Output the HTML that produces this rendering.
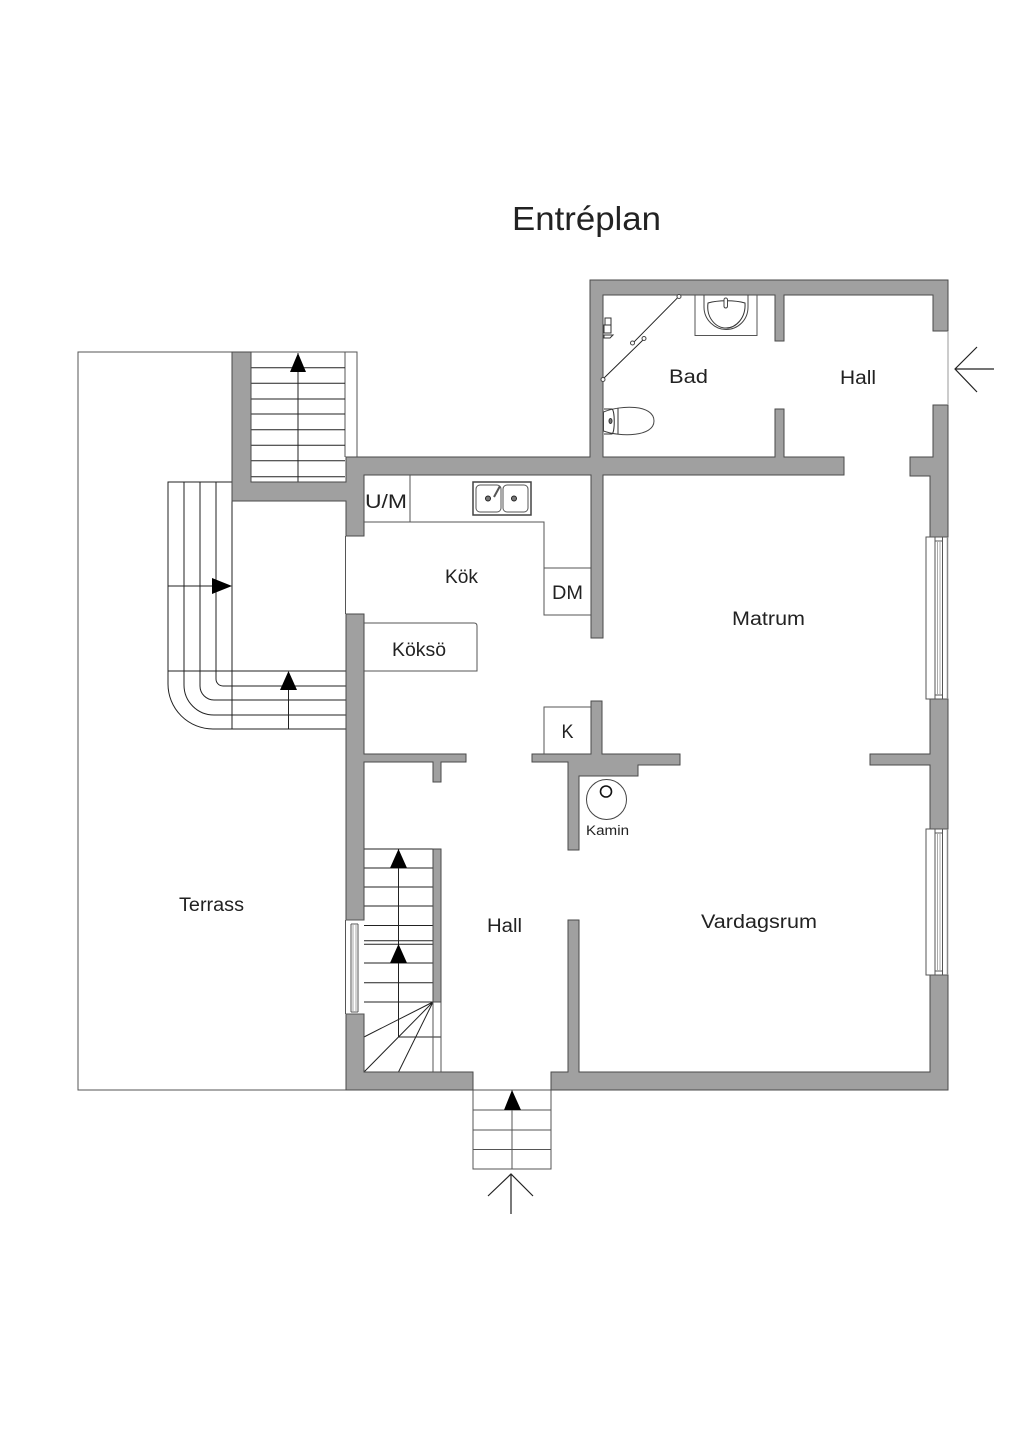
<!DOCTYPE html>
<html><head><meta charset="utf-8"><style>
html,body{margin:0;padding:0;background:#fff}
svg{display:block}
text{font-family:"Liberation Sans",sans-serif;fill:#222;text-anchor:middle}
.w{fill:#a0a0a0;stroke:#4a4a4a;stroke-width:1}
.l{fill:none;stroke:#555;stroke-width:1}
.d{fill:none;stroke:#222;stroke-width:1}
.a{fill:#000;stroke:none}
.n{fill:#fff;stroke:#444;stroke-width:1}
.f{fill:none;stroke:#aaa;stroke-width:1}
</style></head><body>
<svg width="1024" height="1448" viewBox="0 0 1024 1448" xmlns="http://www.w3.org/2000/svg">
<rect width="1024" height="1448" fill="#fff"/>
<text x="586.5" y="230" font-size="33" textLength="149" lengthAdjust="spacingAndGlyphs">Entréplan</text>

<!-- Terrace -->
<path class="l" d="M232 352H78V1090H346"/>

<!-- Upper stair -->
<path class="l" d="M251 352H357V457M345 352V457"/>
<path class="d" d="M251 367.7H345M251 383.3H345M251 399H345M251 414H345M251 429.7H345M251 445.3H345M251 460.7H345M251 476.7H345M298 353V482"/>
<polygon class="a" points="298,353 306,372 290,372"/>

<!-- Left curved stair -->
<path class="d" d="M232 482H168V684A45 45 0 0 0 213 729H346"/>
<path class="d" d="M184 482V685A30 30 0 0 0 214 715H346"/>
<path class="d" d="M200 482V686A14 14 0 0 0 214 700H346"/>
<path class="d" d="M216 482V679A7 7 0 0 0 223 686H346"/>
<path class="d" d="M232 482V729M168 586H212M168 671H346M288.5 690V729"/>
<polygon class="a" points="232,586 212,578 212,594"/>
<polygon class="a" points="288.5,671 297,690 280,690"/>
<path class="l" d="M345.5 536V614"/>

<!-- Hall stair -->
<path class="d" d="M364 849H433M364 868H433M364 887H433M364 906H433M364 925.5H433M364 940.7H433M364 944.3H433M364 963H433M364 982.7H433M364 1002H433"/>
<path class="d" d="M398.5 849V1037M398.5 1037H441M433 1002L364 1037M433 1002L364 1072M433 1002L398.5 1072"/>
<path class="l" d="M433 1002V1072M441 1002V1072"/>
<polygon class="a" points="398.5,849 407,868 390,868"/>
<polygon class="a" points="398.5,944 407,963 390,963"/>

<!-- Entry stair -->
<path class="l" d="M473 1090V1169H551V1090M473 1090H551M473 1110H551M473 1130H551M473 1149.5H551M512 1090V1169"/>
<polygon class="a" points="512,1090 521,1110 504,1110"/>

<!-- Walls -->
<polygon class="w" points="590,280 948,280 948,331 933,331 933,295 784,295 784,341 775,341 775,295 603,295 603,457 775,457 775,409 784,409 784,457 844,457 844,475 603,475 603,638 591,638 591,475 364,475 364,536 346,536 346,501 232,501 232,352 251,352 251,482 346,482 346,457 590,457"/>
<polygon class="w" points="933,405 948,405 948,537 930,537 930,476 910,476 910,457 933,457"/>
<polygon class="w" points="930,699 948,699 948,829 930,829 930,765 870,765 870,754 930,754"/>
<polygon class="w" points="930,975 948,975 948,1090 551,1090 551,1072 568,1072 568,920 579,920 579,1072 930,1072"/>
<polygon class="w" points="346,614 364,614 364,754 466,754 466,762 441,762 441,782 433,782 433,762 364,762 364,920 346,920"/>
<polygon class="w" points="346,1014 364,1014 364,1072 473,1072 473,1090 346,1090"/>
<rect class="w" x="433" y="849" width="8" height="153"/>
<polygon class="w" points="591,701 602,701 602,754 680,754 680,765 638,765 638,776 579,776 579,850 568,850 568,762 532,762 532,754 591,754"/>

<!-- Entry opening line -->
<path d="M948 331V405" fill="none" stroke="#999"/>

<!-- Right windows -->
<path class="l" d="M948 537H926V699H948M935 537V699M942.5 537V699M935 541H942.5M935 695H942.5"/>
<path class="f" d="M937.5 541V695M940 541V695"/>
<path d="M947.5 537V699" fill="none" stroke="#888" stroke-width="1.5"/>
<path class="l" d="M948 829H926V975H948M935 829V975M942.5 829V975M935 833H942.5M935 971H942.5"/>
<path class="f" d="M937.5 833V971M940 833V971"/>
<path d="M947.5 829V975" fill="none" stroke="#888" stroke-width="1.5"/>
<!-- Left window -->
<path class="l" d="M345.5 920V1014M345.5 920H364M345.5 1014H364M351 924V1012M358 924V1012M351 924H358M351 1012H358"/>
<path class="f" d="M353 924V1012M356 924V1012"/>

<!-- Kitchen -->
<path class="l" d="M364 522H544V615H591M410 475V522M544 568H591"/>
<path class="l" d="M364 623H474Q477 623 477 626V671H364"/>
<rect x="473" y="482" width="58" height="33" fill="none" stroke="#444" stroke-width="1.5"/>
<rect x="476" y="485" width="25" height="27" rx="4" fill="#fff" stroke="#555"/>
<rect x="503" y="485" width="25" height="27" rx="4" fill="#fff" stroke="#555"/>
<circle cx="488" cy="498.5" r="2.5" fill="#777" stroke="#222"/>
<circle cx="514" cy="498.5" r="2.5" fill="#777" stroke="#222"/>
<path d="M494 497L500 486" stroke="#555" stroke-width="2" fill="none"/>

<!-- K and Kamin -->
<path class="l" d="M544 754V707H591"/>
<circle cx="606.5" cy="799.5" r="20" fill="none" stroke="#444" stroke-width="1"/>
<circle cx="606" cy="791.5" r="5.5" fill="none" stroke="#111" stroke-width="1.6"/>

<!-- Bath fixtures -->
<path class="l" d="M695 295V335.5H757V295"/>
<path d="M704 295V307C704 320 715 329.500 726 329.500C738 329.500 748 320 748 307V295" fill="none" stroke="#444"/>
<path d="M708 303C706 318 716 328 726 328C736 328 746 318 745 303C735 300 718 300 708 303Z" fill="#fff" stroke="#333"/>
<rect x="724" y="298" width="3.5" height="10" rx="1.7" fill="#fff" stroke="#444"/>
<path d="M603 379L644 339M632.7 343.3L679 296.3" stroke="#222" stroke-width="1" fill="none"/>
<circle cx="603" cy="379.5" r="2" class="n"/>
<circle cx="679" cy="296.5" r="2" class="n"/>
<circle cx="632.5" cy="343" r="2" class="n"/>
<circle cx="644" cy="338.5" r="2" class="n"/>
<g fill="none" stroke="#333">
<rect x="605" y="318" width="6" height="7"/>
<path d="M604 325H611V333H604ZM604 335H613L610 338H604Z"/>
</g>
<path d="M603.5 412C620 405 654 404 654 421C654 437 620 437 603.5 431Z" fill="#fff" stroke="#444"/>
<path d="M604 409H612C615 411 615 432 612 434H604M618 408V434" fill="none" stroke="#333"/>
<ellipse cx="610.5" cy="421" rx="1.5" ry="2.5" fill="#777" stroke="#333"/>

<!-- Entry arrows -->
<path d="M994 369H955M977 347L955 369L977 392" fill="none" stroke="#222" stroke-width="1.2"/>
<path d="M511 1214V1175M488 1196L511 1174L533 1196" fill="none" stroke="#222" stroke-width="1.2"/>

<!-- Labels -->
<g font-size="19">
<text x="688.5" y="383" textLength="39" lengthAdjust="spacingAndGlyphs">Bad</text>
<text x="858" y="384" textLength="36" lengthAdjust="spacingAndGlyphs">Hall</text>
<text x="461.5" y="583" textLength="33" lengthAdjust="spacingAndGlyphs">Kök</text>
<text x="768.5" y="625" textLength="73" lengthAdjust="spacingAndGlyphs">Matrum</text>
<text x="419" y="656" textLength="54" lengthAdjust="spacingAndGlyphs">Köksö</text>
<text x="386" y="508" textLength="42" lengthAdjust="spacingAndGlyphs">U/M</text>
<text x="567.5" y="599" textLength="31" lengthAdjust="spacingAndGlyphs">DM</text>
<text x="567.5" y="738" textLength="12" lengthAdjust="spacingAndGlyphs">K</text>
<text x="211.5" y="911" textLength="65" lengthAdjust="spacingAndGlyphs">Terrass</text>
<text x="504.5" y="932" textLength="35" lengthAdjust="spacingAndGlyphs">Hall</text>
<text x="759" y="928" textLength="116" lengthAdjust="spacingAndGlyphs">Vardagsrum</text>
</g>
<text x="607.5" y="835" font-size="13.5" textLength="43" lengthAdjust="spacingAndGlyphs">Kamin</text>
</svg>
</body></html>
